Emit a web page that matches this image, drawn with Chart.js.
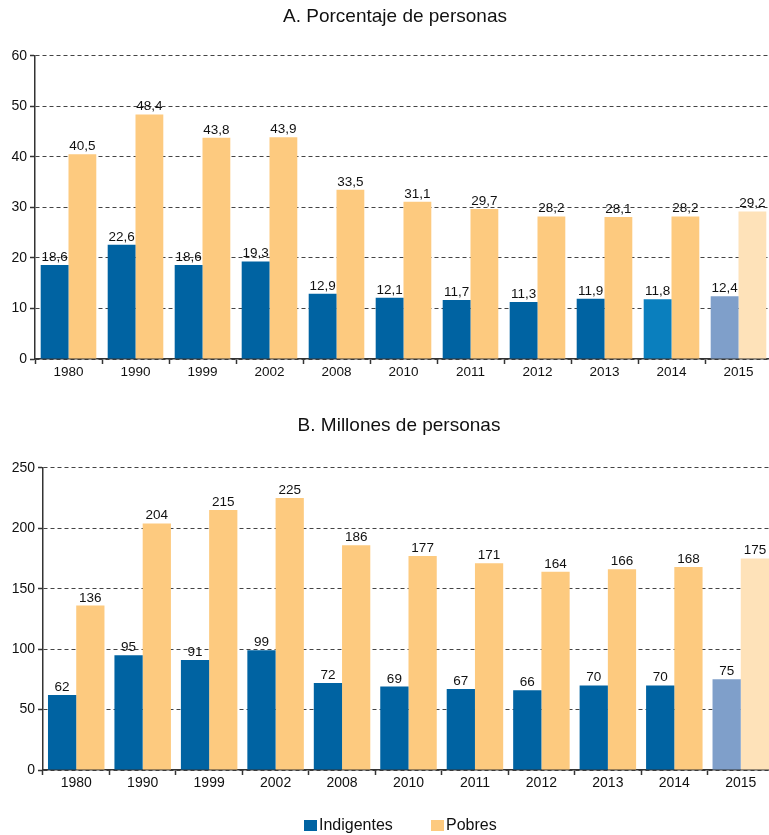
<!DOCTYPE html>
<html>
<head>
<meta charset="utf-8">
<script src="https://cdn.jsdelivr.net/npm/chart.js@4.4.0/dist/chart.umd.min.js"></script>
<style>
  body { margin: 0; width: 769px; height: 835px; overflow: hidden; background: #fff; position: relative; font-family: "Liberation Sans", Arial, sans-serif; }
  .box { position: absolute; width: 13px; height: 11px; }
  .lbl { position: absolute; font-size: 16px; line-height: 18px; color: #111; }
</style>
</head>
<body>
<div style="position:absolute;left:0;top:0;width:790px;height:390px"><canvas id="chartA" width="790" height="390"></canvas></div>
<div style="position:absolute;left:0;top:400px;width:798px;height:435px"><canvas id="chartB" width="798" height="435"></canvas></div>

<span class="box" style="left:304px;top:820px;background:#0063a2"></span>
<span class="lbl" style="left:319px;top:816px">Indigentes</span>
<span class="box" style="left:431px;top:820px;background:#fdca7f"></span>
<span class="lbl" style="left:446px;top:816px">Pobres</span>

<script>
// Años
const years = ['1980', '1990', '1999', '2002', '2008', '2010', '2011', '2012', '2013', '2014', '2015'];

// A. Porcentaje de personas
const indigentesPct = [18.6, 22.6, 18.6, 19.3, 12.9, 12.1, 11.7, 11.3, 11.9, 11.8, 12.4];
const pobresPct = [40.5, 48.4, 43.8, 43.9, 33.5, 31.1, 29.7, 28.2, 28.1, 28.2, 29.2];

// B. Millones de personas
const indigentesMill = [62, 95, 91, 99, 72, 69, 67, 66, 70, 70, 75];
const pobresMill = [136, 204, 215, 225, 186, 177, 171, 164, 166, 168, 175];

const BLUE = '#0063a2';
const BLUE_2014 = '#0a7fbe';
const BLUE_PROJ = '#7f9fca';
const ORANGE = '#fdca7f';
const ORANGE_PROJ = '#fee2b9';
const TEXT = '#111';

Chart.defaults.font.family = '"Liberation Sans", Arial, sans-serif';
Chart.defaults.color = TEXT;

// value labels above each bar
const barLabels = {
    id: 'barLabels',
    afterDatasetsDraw(chart, args, opts) {
        const ctx = chart.ctx;
        ctx.save();
        ctx.fillStyle = TEXT;
        ctx.font = opts.size + 'px ' + Chart.defaults.font.family;
        ctx.textAlign = 'center';
        ctx.textBaseline = 'alphabetic';
        chart.data.datasets.forEach((ds, i) => {
            chart.getDatasetMeta(i).data.forEach((bar, j) => {
                const txt = ds.data[j].toFixed(opts.decimals).replace('.', ',');
                ctx.fillText(txt, bar.x, bar.y - 4);
            });
        });
        ctx.restore();
    }
};

function makeChart(id, cfg) {
    return new Chart(document.getElementById(id).getContext('2d'), {
        type: 'bar',
        data: {
            labels: years,
            datasets: [{
                label: 'Indigentes',
                data: cfg.indigentes,
                backgroundColor: c => cfg.blueAt(c.dataIndex)
            }, {
                label: 'Pobres',
                data: cfg.pobres,
                backgroundColor: c => c.dataIndex === 10 ? ORANGE_PROJ : ORANGE
            }]
        },
        plugins: [barLabels],
        options: {
            responsive: false,
            animation: false,
            layout: { padding: 0 },
            datasets: { bar: { categoryPercentage: cfg.catPct, barPercentage: 1 } },
            plugins: {
                legend: { display: false },
                tooltip: { enabled: false },
                title: {
                    display: true,
                    text: cfg.title,
                    color: TEXT,
                    font: { size: 19, weight: 'normal' },
                    padding: cfg.titlePad
                },
                barLabels: { decimals: cfg.decimals, size: cfg.labelSize }
            },
            scales: {
                x: {
                    grid: { drawOnChartArea: false, tickLength: 5, tickColor: '#333', tickWidth: 1.5, offset: true },
                    border: { color: '#333', width: 1.5 },
                    ticks: { color: TEXT, font: { size: cfg.xSize }, padding: 0, maxRotation: 0, autoSkip: false },
                    afterFit: s => { s.height = cfg.xHeight; }
                },
                y: {
                    min: 0,
                    max: cfg.max,
                    ticks: { stepSize: cfg.step, color: TEXT, font: { size: 14 }, padding: 3 },
                    grid: { color: '#444', lineWidth: 1, tickLength: 5, tickColor: '#333', tickWidth: 1.5 },
                    border: { color: '#333', width: 1.5, dash: [4, 3] },
                    afterFit: s => { s.width = cfg.yWidth; }
                },
                // empty spacer on the right so the plot runs past the page edge
                spacer: {
                    type: 'linear',
                    position: 'right',
                    grid: { display: false },
                    border: { display: false },
                    ticks: { display: false },
                    afterFit: s => { s.width = cfg.rightGap; }
                }
            }
        }
    });
}

makeChart('chartA', {
    title: 'A. Porcentaje de personas',
    indigentes: indigentesPct,
    pobres: pobresPct,
    blueAt: i => i === 10 ? BLUE_PROJ : (i === 9 ? BLUE_2014 : BLUE),
    max: 60, step: 10, decimals: 1,
    labelSize: 13.5, xSize: 13.5,
    catPct: 0.83, rightGap: 18,
    titlePad: { top: 5, bottom: 28 },
    xHeight: 31, yWidth: 35
});

makeChart('chartB', {
    title: 'B. Millones de personas',
    indigentes: indigentesMill,
    pobres: pobresMill,
    blueAt: i => i === 10 ? BLUE_PROJ : BLUE,
    max: 250, step: 50, decimals: 0,
    labelSize: 13.5, xSize: 14,
    catPct: 0.85, rightGap: 24,
    titlePad: { top: 14, bottom: 31 },
    xHeight: 65, yWidth: 43
});
</script>
</body>
</html>
